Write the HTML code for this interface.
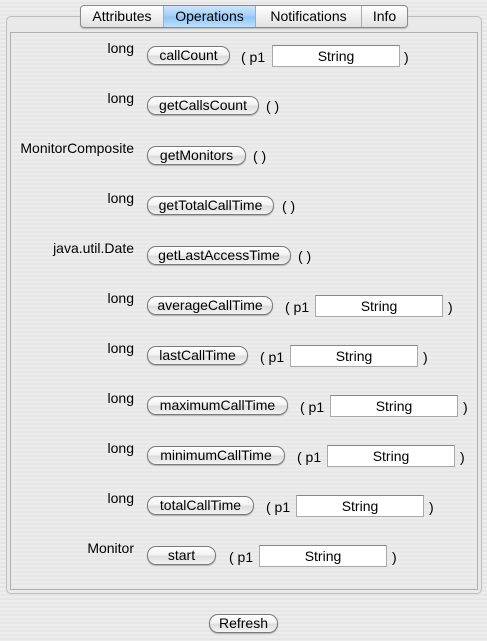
<!DOCTYPE html>
<html><head><meta charset="utf-8"><style>
body{margin:0;width:487px;height:641px;background:repeating-linear-gradient(#ededed 0 2px,#e6e6e6 2px 4px);font-family:"Liberation Sans",sans-serif;font-size:14px;color:#000;position:relative;overflow:hidden}
.abs{position:absolute}
.outer{left:6px;top:16px;width:474px;height:576px;border:1px solid #bdbdbd;border-radius:5px;background:#e9e9e9}
.inner{left:10px;top:32px;width:466px;height:556px;border:1px solid #b0b0b0;background:repeating-linear-gradient(#ececec 0 2px,#e7e7e7 2px 4px)}
.tabs{left:80px;top:5px;height:21px;border:1px solid #8a8a8a;border-radius:4px;display:flex;background:linear-gradient(#fff,#f0f0f0 50%,#e2e2e2);overflow:hidden;box-shadow:0 1px 1px rgba(0,0,0,.2)}
.tabs div{line-height:21px;text-align:center;border-right:1px solid #aaa}
.tabs div:last-child{border-right:none}
.tabs .sel{background:linear-gradient(#cfe6fb,#9fcdf6 50%,#8cc4f5 51%,#bfe0fb)}
.lbl{right:353px;text-align:right;white-space:nowrap;line-height:16px}
.btn{left:147px;height:17px;border:1px solid #7a7a7a;border-radius:9px;background:linear-gradient(#fff,#f2f2f2 45%,#ddd 55%,#f4f4f4);text-align:center;line-height:17px;box-shadow:0 1px 1px rgba(0,0,0,.25)}
.t{white-space:nowrap;line-height:16px}
.inp{width:126px;height:20px;border:1px solid #a8a8a8;border-top-color:#888;background:#fff;text-align:center;line-height:20px}
</style></head><body>
<div class="abs outer"></div>
<div class="abs inner"></div>
<div class="abs tabs"><div style="width:82px">Attributes</div><div class="sel" style="width:91px">Operations</div><div style="width:105px">Notifications</div><div style="width:45px">Info</div></div>

<div class="abs lbl" style="top:40px">long</div>
<div class="abs btn" style="top:46px;width:81px">callCount</div>
<div class="abs t" style="left:241px;top:49px">( p1</div>
<div class="abs inp" style="left:272px;top:45px">String</div>
<div class="abs t" style="left:404px;top:49px">)</div>

<div class="abs lbl" style="top:90px">long</div>
<div class="abs btn" style="top:96px;width:110px">getCallsCount</div>
<div class="abs t" style="left:266px;top:98px">( )</div>

<div class="abs lbl" style="top:140px">MonitorComposite</div>
<div class="abs btn" style="top:146px;width:97px">getMonitors</div>
<div class="abs t" style="left:253px;top:148px">( )</div>

<div class="abs lbl" style="top:190px">long</div>
<div class="abs btn" style="top:196px;width:125px">getTotalCallTime</div>
<div class="abs t" style="left:282px;top:198px">( )</div>

<div class="abs lbl" style="top:240px">java.util.Date</div>
<div class="abs btn" style="top:246px;width:142px">getLastAccessTime</div>
<div class="abs t" style="left:298px;top:248px">( )</div>

<div class="abs lbl" style="top:290px">long</div>
<div class="abs btn" style="top:296px;width:124px">averageCallTime</div>
<div class="abs t" style="left:285px;top:299px">( p1</div>
<div class="abs inp" style="left:315px;top:295px">String</div>
<div class="abs t" style="left:448px;top:299px">)</div>

<div class="abs lbl" style="top:340px">long</div>
<div class="abs btn" style="top:346px;width:99px">lastCallTime</div>
<div class="abs t" style="left:260px;top:349px">( p1</div>
<div class="abs inp" style="left:290px;top:345px">String</div>
<div class="abs t" style="left:423px;top:349px">)</div>

<div class="abs lbl" style="top:390px">long</div>
<div class="abs btn" style="top:396px;width:139px">maximumCallTime</div>
<div class="abs t" style="left:300px;top:399px">( p1</div>
<div class="abs inp" style="left:330px;top:395px">String</div>
<div class="abs t" style="left:463px;top:399px">)</div>

<div class="abs lbl" style="top:440px">long</div>
<div class="abs btn" style="top:446px;width:136px">minimumCallTime</div>
<div class="abs t" style="left:297px;top:449px">( p1</div>
<div class="abs inp" style="left:327px;top:445px">String</div>
<div class="abs t" style="left:460px;top:449px">)</div>

<div class="abs lbl" style="top:490px">long</div>
<div class="abs btn" style="top:496px;width:105px">totalCallTime</div>
<div class="abs t" style="left:266px;top:499px">( p1</div>
<div class="abs inp" style="left:296px;top:495px">String</div>
<div class="abs t" style="left:429px;top:499px">)</div>

<div class="abs lbl" style="top:540px">Monitor</div>
<div class="abs btn" style="top:546px;width:67px">start</div>
<div class="abs t" style="left:229px;top:549px">( p1</div>
<div class="abs inp" style="left:259px;top:545px">String</div>
<div class="abs t" style="left:392px;top:549px">)</div>

<div class="abs btn" style="left:209px;top:614px;width:67px">Refresh</div>
</body></html>
